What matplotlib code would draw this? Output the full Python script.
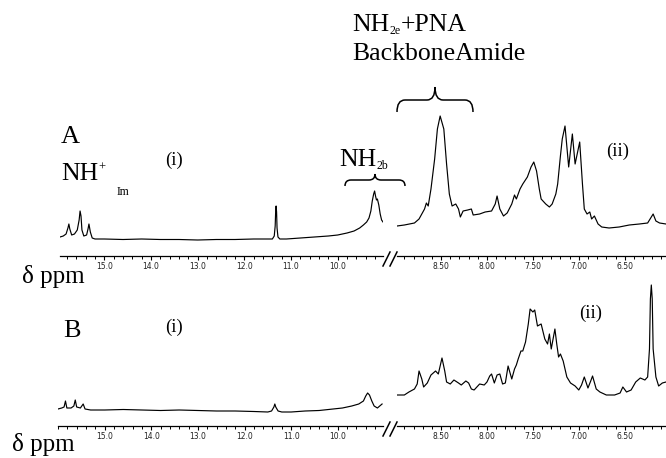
import matplotlib.pyplot as plt
import matplotlib.transforms as mtransforms
from matplotlib.path import Path
from matplotlib.patches import PathPatch
from matplotlib.lines import Line2D
from matplotlib.ticker import MultipleLocator, FormatStrFormatter
import numpy as np

SERIF = 'Liberation Serif'

# ---- spectrum A, (i) region: ppm / intensity (a.u.)
ppm_A1 = [15.95, 15.88, 15.82, 15.78, 15.76, 15.74, 15.70, 15.64, 15.58, 15.54, 15.52, 15.50, 15.48,
          15.44, 15.38, 15.35, 15.33, 15.30, 15.26, 15.20, 15.0, 14.6, 14.2, 13.8, 13.4, 13.0, 12.6,
          12.2, 11.8, 11.5, 11.40, 11.36, 11.34, 11.33, 11.32, 11.31, 11.30, 11.28, 11.24, 11.1,
          10.8, 10.5, 10.2, 10.0, 9.8, 9.65, 9.53, 9.45, 9.38, 9.33, 9.29, 9.26, 9.23, 9.21, 9.19,
          9.17, 9.15, 9.12, 9.09, 9.06, 9.03]
int_A1 = [19, 20, 22, 28, 32, 27, 21, 22, 26, 36, 45, 40, 26, 20, 21, 27, 32, 24, 18, 17, 17, 16.5,
          17, 16.5, 16.5, 16, 16.5, 16.5, 17, 17, 17, 20, 30, 44, 50, 44, 28, 19, 17, 17,
          18, 19, 20, 21, 23, 25, 28, 31, 34, 38, 45, 55, 62, 65, 60, 56, 57, 51, 42, 36, 34]

# ---- spectrum A, (ii) region
ppm_A2 = [8.98, 8.90, 8.79, 8.74, 8.68, 8.66, 8.64, 8.61, 8.57, 8.54, 8.51, 8.47, 8.44, 8.41, 8.38,
          8.34, 8.31, 8.29, 8.26, 8.21, 8.17, 8.15, 8.08, 8.02, 7.95, 7.91, 7.89, 7.86, 7.82, 7.78,
          7.73, 7.70, 7.68, 7.64, 7.61, 7.56, 7.52, 7.49, 7.46, 7.43, 7.41, 7.36, 7.32, 7.29, 7.25,
          7.23, 7.20, 7.18, 7.15, 7.11, 7.07, 7.04, 6.99, 6.96, 6.94, 6.91, 6.88, 6.86, 6.83, 6.79,
          6.75, 6.67, 6.56, 6.45, 6.34, 6.25, 6.21, 6.19, 6.16, 6.12, 6.05]
int_A2 = [30, 31, 33, 37, 47, 53, 50, 67, 97, 127, 140, 127, 92, 62, 50,
          52, 47, 39, 45, 46, 47, 41, 42, 44, 45, 52, 60, 47, 40, 43,
          52, 61, 57, 67, 72, 79, 89, 94, 85, 67, 57, 52, 49, 52, 62,
          72, 100, 117, 130, 89, 122, 92, 114, 72, 47, 42, 44, 37, 40, 32,
          29, 28, 29, 31, 32, 33, 39, 42, 35, 33, 32]

# ---- spectrum B, (i) region
ppm_B1 = [16.0, 15.92, 15.87, 15.84, 15.81, 15.72, 15.66, 15.63, 15.60, 15.52, 15.46, 15.42, 15.3,
          15.0, 14.6, 14.2, 13.8, 13.4, 13.0, 12.6, 12.2, 11.8, 11.5, 11.42, 11.37, 11.35, 11.33,
          11.28, 11.2, 11.0, 10.7, 10.4, 10.1, 9.9, 9.7, 9.55, 9.45, 9.40, 9.36, 9.32, 9.27, 9.22,
          9.15, 9.10, 9.05]
int_B1 = [17, 18, 19, 25, 18, 18, 20, 26, 19, 18, 22, 17, 16,
          16, 16.5, 16, 15.5, 16, 15.5, 15, 15, 14.5, 14, 15, 19, 22, 19,
          15, 14, 14, 15, 15.5, 17, 18, 20, 22, 25, 30, 33, 31, 25, 20,
          18, 20, 22]

# ---- spectrum B, (ii) region
ppm_B2 = [8.98, 8.90, 8.85, 8.79, 8.76, 8.74, 8.71, 8.69, 8.65, 8.61, 8.56, 8.53, 8.49, 8.46, 8.44,
          8.40, 8.36, 8.31, 8.28, 8.23, 8.20, 8.17, 8.14, 8.08, 8.03, 8.00, 7.97, 7.95, 7.92, 7.89,
          7.86, 7.83, 7.80, 7.77, 7.73, 7.70, 7.68, 7.66, 7.63, 7.61, 7.58, 7.55, 7.53, 7.50, 7.48,
          7.45, 7.41, 7.37, 7.34, 7.32, 7.30, 7.26, 7.24, 7.22, 7.20, 7.17, 7.13, 7.09, 7.04, 7.00,
          6.97, 6.94, 6.90, 6.87, 6.85, 6.81, 6.77, 6.70, 6.61, 6.55, 6.52, 6.48, 6.43, 6.38, 6.33,
          6.28, 6.25, 6.23, 6.22, 6.21, 6.20, 6.19, 6.16, 6.13, 6.09, 6.05]
int_B2 = [31, 31, 34, 37, 42, 55, 47, 39, 43, 51, 55, 52, 68, 55, 44,
          42, 46, 43, 41, 45, 43, 37, 36, 42, 41, 44, 50, 52, 43, 51,
          52, 42, 43, 60, 47, 57, 61, 67, 75, 75, 84, 102, 117, 114, 116,
          100, 102, 87, 82, 92, 77, 97, 82, 69, 72, 65, 49, 43, 40, 36,
          41, 49, 38, 45, 50, 37, 34, 31, 31, 33, 39, 34, 36, 44, 48,
          46, 49, 77, 127, 141, 127, 77, 49, 40, 43, 44]

labels_left = [15.0, 14.0, 13.0, 12.0, 11.0, 10.0]
labels_right = [8.50, 8.00, 7.50, 7.00, 6.50]

W, H = 666, 458
fig = plt.figure(figsize=(W / 100, H / 100), dpi=100)
pix = mtransforms.Affine2D().scale(1.0 / W, -1.0 / H).translate(0, 1) + fig.transFigure
renderer = fig.canvas.get_renderer()


def add_spec(x0, x1, y_ax, lims, ppm, inten, majors, minor, fmt):
    ax = fig.add_axes([x0 / W, 1 - y_ax / H, (x1 - x0) / W, 200 / H])
    ax.patch.set_visible(False)
    for s in ['top', 'left', 'right']:
        ax.spines[s].set_visible(False)
    ax.spines['bottom'].set_linewidth(0.9)
    ax.plot(ppm, inten, color='black', lw=0.85)
    ax.set_xlim(*lims)
    ax.set_ylim(0, 200)
    ax.set_yticks([])
    ax.set_xticks(majors)
    ax.xaxis.set_minor_locator(MultipleLocator(minor))
    ax.xaxis.set_major_formatter(FormatStrFormatter(fmt))
    ax.tick_params(axis='x', which='major', direction='out', length=3, width=0.8,
                   labelsize=5.5, pad=1.5, labelcolor='#222222')
    ax.tick_params(axis='x', which='minor', direction='out', length=2.2, width=0.7)
    return ax


def brk(y_ax):
    for dx in (0, 7):
        fig.add_artist(Line2D([383 + dx, 390 + dx], [y_ax + 10, y_ax - 4], color='black',
                              lw=1.1, transform=pix))


def brace(x0, x1, y, d, t, r):
    xm = (x0 + x1) / 2
    verts = [(x0, y + d), (x0, y), (x0 + r, y), (xm - r, y), (xm, y), (xm, y - t),
             (xm, y), (xm + r, y), (x1 - r, y), (x1, y), (x1, y + d)]
    codes = [Path.MOVETO, Path.CURVE3, Path.CURVE3, Path.LINETO, Path.CURVE3, Path.CURVE3,
             Path.CURVE3, Path.CURVE3, Path.LINETO, Path.CURVE3, Path.CURVE3]
    fig.add_artist(PathPatch(Path(verts, codes), fill=False, lw=1.1, color='black', transform=pix))


def txt(x, y, s, size, **kw):
    return fig.text(x, y, s, fontsize=size, family=SERIF, transform=pix, **kw)


def chain(x, y, parts):
    # parts: (text, size, vertical offset in px); drawn one after another on a baseline
    for s, size, dy in parts:
        t = txt(x, y + dy, s, size, va='baseline')
        x += t.get_window_extent(renderer).width


# panel A
add_spec(60, 383, 256, (15.95, 9.03), ppm_A1, int_A1, labels_left, 0.2, '%.1f')
add_spec(397, 666, 256, (8.98, 6.05), ppm_A2, int_A2, labels_right, 0.1, '%.2f')
brk(256)
# panel B
add_spec(58, 383, 426, (16.0, 9.03), ppm_B1, int_B1, labels_left, 0.2, '%.1f')
add_spec(397, 666, 426, (8.98, 6.05), ppm_B2, int_B2, labels_right, 0.1, '%.2f')
brk(426)

brace(345, 405, 180, 6, 6, 6)
brace(397, 473, 100, 12, 13, 8)

chain(352, 31, [('NH', 18.5, 0), ('2e', 8.5, 3), ('+PNA', 18.5, 0)])
txt(352, 60, 'BackboneAmide', 18.5, va='baseline')
txt(61, 143, 'A', 19, va='baseline')
chain(61, 180, [('NH', 18.5, 0), ('+', 9, -9)])
txt(117, 195, 'Im', 8.5, va='baseline')
txt(174, 160, '(i)', 13.5, ha='center', va='center')
chain(339, 166, [('NH', 18.5, 0), ('2b', 8.5, 3)])
txt(618, 151, '(ii)', 13.5, ha='center', va='center')
txt(22, 283, 'δ ppm', 18, va='baseline')

txt(63, 337, 'B', 19, va='baseline')
txt(174, 327, '(i)', 13.5, ha='center', va='center')
txt(591, 313, '(ii)', 13.5, ha='center', va='center')
txt(12, 451, 'δ ppm', 18, va='baseline')

plt.savefig('out.png', dpi=100)
